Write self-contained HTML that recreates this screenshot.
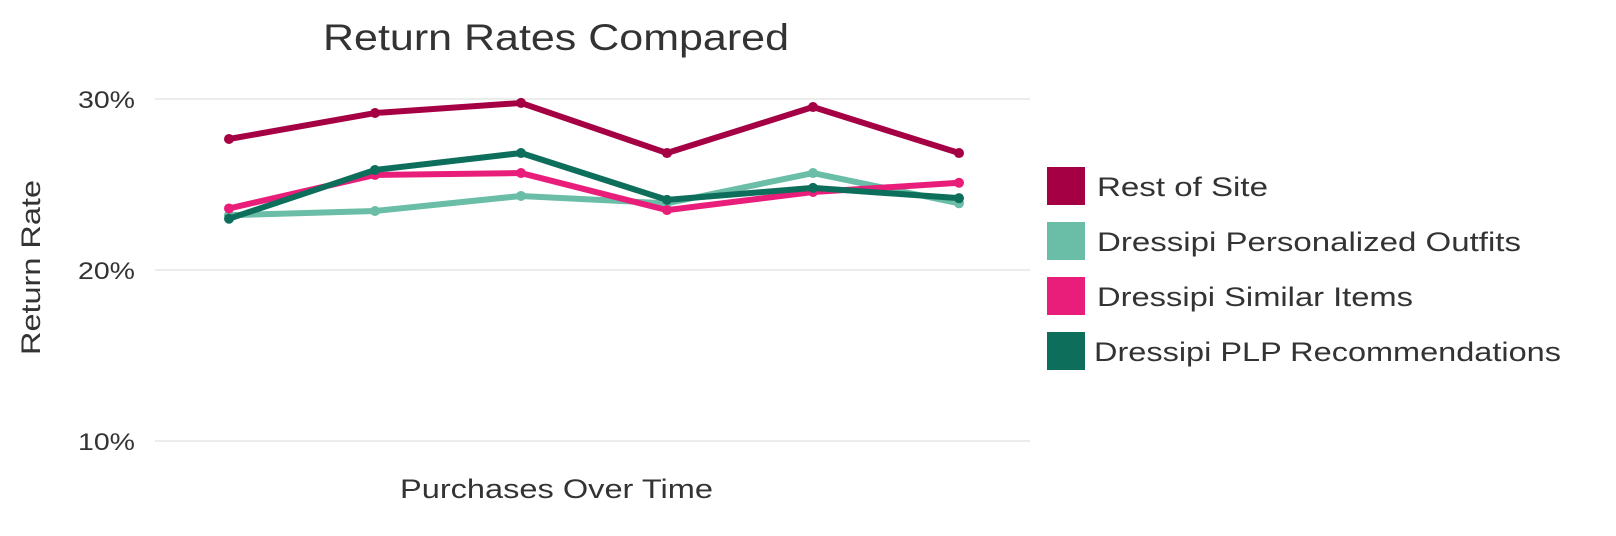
<!DOCTYPE html>
<html><head><meta charset="utf-8"><style>
body{margin:0;background:#fff;width:1616px;height:531px;overflow:hidden;font-family:"Liberation Sans",sans-serif;}
</style></head><body>
<svg width="1616" height="531" xmlns="http://www.w3.org/2000/svg">
<text x="323" y="50" textLength="466" lengthAdjust="spacingAndGlyphs" font-size="37" fill="#333">Return Rates Compared</text>
<g id="grid"></g>
<g id="series"></g>
<text x="400" y="498" textLength="313" lengthAdjust="spacingAndGlyphs" font-size="27" fill="#333">Purchases Over Time</text>
<text transform="translate(40,355) rotate(-90)" textLength="175" lengthAdjust="spacingAndGlyphs" font-size="27" fill="#333">Return Rate</text>
<g id="legend"></g>
</svg>
<script>
const categories=[1,2,3,4,5,6];
const yTicks=[10,20,30];
const seriesNames=["Rest of Site","Dressipi Personalized Outfits","Dressipi Similar Items","Dressipi PLP Recommendations"];
const seriesColors=["#a50044","#6abda6","#e91e7a","#0e6e5c"];
const restOfSite=[27.66,29.18,29.77,26.84,29.53,26.84];
const personalized=[23.2,23.45,24.33,23.9,25.67,23.9];
const similar=[23.6,25.56,25.67,23.5,24.56,25.1];
const plp=[23.0,25.85,26.84,24.1,24.8,24.2];
const allSeries=[restOfSite,personalized,similar,plp];
const legendWidths=[171,424,316,467];
const NS="http://www.w3.org/2000/svg";
const y=v=>441-(v-10)*17.1;
const x=i=>229+i*146;
const grid=document.getElementById('grid');
yTicks.forEach(t=>{
 const l=document.createElementNS(NS,'line');
 l.setAttribute('x1',155);l.setAttribute('x2',1030);l.setAttribute('y1',y(t));l.setAttribute('y2',y(t));
 l.setAttribute('stroke','#d9d9d9');l.setAttribute('stroke-width',1);
 
 
 grid.appendChild(l);
 const tx=document.createElementNS(NS,'text');
 tx.setAttribute('x',78);tx.setAttribute('y',y(t)+9);
 tx.setAttribute('textLength',57);tx.setAttribute('lengthAdjust','spacingAndGlyphs');
 tx.setAttribute('font-size',24);tx.setAttribute('fill','#333');tx.textContent=t+'%';
 
 
 grid.appendChild(tx);
});
const sg=document.getElementById('series');
allSeries.forEach((s,k)=>{
 const p=document.createElementNS(NS,'polyline');
 p.setAttribute('points',s.map((v,i)=>x(i)+','+y(v)).join(' '));
 p.setAttribute('fill','none');p.setAttribute('stroke',seriesColors[k]);p.setAttribute('stroke-width',6);p.setAttribute('stroke-linejoin','round');
 
 
 sg.appendChild(p);
 s.forEach((v,i)=>{
  const c=document.createElementNS(NS,'circle');
  c.setAttribute('cx',x(i));c.setAttribute('cy',y(v));c.setAttribute('r',5);c.setAttribute('fill',seriesColors[k]);
  
  
  sg.appendChild(c);
 });
});
const lg=document.getElementById('legend');
seriesNames.forEach((n,k)=>{
 const yy=167+k*55;
 const r=document.createElementNS(NS,'rect');
 r.setAttribute('x',1047);r.setAttribute('y',yy);r.setAttribute('width',38);r.setAttribute('height',38);r.setAttribute('fill',seriesColors[k]);
 
 
 lg.appendChild(r);
 const t=document.createElementNS(NS,'text');
 t.setAttribute('x',k==3?1094:1097);t.setAttribute('y',yy+29);t.setAttribute('font-size',27);t.setAttribute('fill','#333');t.textContent=n;
 t.setAttribute('textLength',legendWidths[k]);t.setAttribute('lengthAdjust','spacingAndGlyphs');
 
 
 lg.appendChild(t);
});
</script>
</body></html>
